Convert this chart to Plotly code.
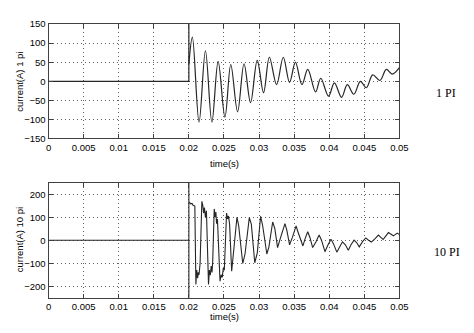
import plotly.graph_objects as go

# ---- data ----
# 1 PI case: pre-event flat segment and the step at t = 0.02 s
pi1_pre_t = [0.0, 0.02, 0.02, 0.02]
pi1_pre_i = [0.0, 0.0, 300.0, 45.0]
# 1 PI case: oscillation after the event (peaks / troughs)
pi1_t = [0.02, 0.0205, 0.02145, 0.02236, 0.02328, 0.02417, 0.02514, 0.02597, 0.02694,
         0.02786, 0.02879, 0.02974, 0.03064, 0.03147, 0.0325, 0.03345, 0.03435, 0.03518,
         0.03611, 0.03694, 0.03806, 0.03879, 0.0399, 0.04074, 0.04175, 0.04258, 0.04351,
         0.04444, 0.04528, 0.0462, 0.04722, 0.04814, 0.04897, 0.05]
pi1_i = [45, 116, -107, 80, -107, 52, -94, 44, -80,
         46, -56, 55, -30, 63, -9, 63, -3, 50,
         -9, 31, -28, 8, -39, -4, -42, -9, -34,
         0, -17, 17, 2, 31, 19, 36]

# 10 PI case
pi10_t = [0.0, 0.02, 0.02, 0.02, 0.02, 0.02025, 0.02045, 0.0206, 0.02085,
          0.02100, 0.02112, 0.02125, 0.02135, 0.02145, 0.0216, 0.02185,
          0.02199, 0.02210, 0.02222, 0.02235, 0.02250, 0.02280,
          0.02292, 0.02305, 0.02318, 0.02330, 0.02340, 0.02361,
          0.02375, 0.02385, 0.02395, 0.02407, 0.02444,
          0.02460, 0.02475, 0.02490, 0.02505, 0.02537,
          0.02552, 0.02565, 0.02580, 0.02610,
          0.02650, 0.02685, 0.02710, 0.02768, 0.02800, 0.02861, 0.02890, 0.02939,
          0.02975, 0.03022, 0.03050, 0.03111, 0.03140, 0.03194, 0.03225, 0.03264,
          0.03300, 0.03369, 0.03395, 0.03435, 0.03475, 0.03528, 0.03550, 0.03625,
          0.03660, 0.03694, 0.03725, 0.03764, 0.03810, 0.03856, 0.03890, 0.03939,
          0.03980, 0.04025, 0.04060, 0.04108, 0.04150, 0.04189, 0.04230, 0.04272,
          0.04310, 0.04354, 0.04390, 0.04428, 0.04475, 0.04521, 0.04560, 0.04601,
          0.04650, 0.04701, 0.04735, 0.04768, 0.04810, 0.04844, 0.04914, 0.04969, 0.05]
pi10_i = [0, 0, 400, -400, 168, 158, 160, 152, 148,
          -192, -130, -165, -140, -150, -100, 169,
          150, 118, 142, 100, 128, -192,
          -130, -152, -112, -140, -90, 136,
          100, 122, 72, 92, -178,
          -150, -162, -122, -130, 118,
          92, 105, 70, -135,
          10, 100, 62, -101, -60, 98, 70, -98,
          -55, 104, 66, -60, -30, 79, 50, -32,
          5, 72, 45, -20, 12, 62, 40, -25,
          10, 37, 12, -32, -8, 23, 0, -50,
          -22, 4, -15, -52, -28, -7, -20, -44,
          -20, 0, -10, -29, -6, 10, 0, -8,
          6, 22, 12, 3, 20, 33, 19, 31, 24]

x_ticks = [0, 0.005, 0.01, 0.015, 0.02, 0.025, 0.03, 0.035, 0.04, 0.045, 0.05]
x_labels = ["0", "0.005", "0.01", "0.015", "0.02", "0.025", "0.03", "0.035", "0.04", "0.045", "0.05"]
y1_ticks = [-150, -100, -50, 0, 50, 100, 150]
y2_ticks = [-200, -100, 0, 100, 200]

W, H = 474, 333
line_col = "#262626"
font = dict(family="Liberation Sans, Arial, sans-serif", size=9.5, color="black")

fig = go.Figure()
fig.add_trace(go.Scatter(x=pi1_pre_t, y=pi1_pre_i, mode="lines",
                         line=dict(color=line_col, width=1.2), xaxis="x", yaxis="y"))
fig.add_trace(go.Scatter(x=pi1_t, y=pi1_i, mode="lines",
                         line=dict(color=line_col, width=1.2, shape="spline", smoothing=1.0),
                         xaxis="x", yaxis="y"))
fig.add_trace(go.Scatter(x=pi10_t, y=pi10_i, mode="lines",
                         line=dict(color=line_col, width=1.1), xaxis="x2", yaxis="y2"))

xl, xr = 46.7, 406.7
xdom = [xl / W, xr / W]
top_dom = [1 - 137.0 / H, 1 - 18.7 / H]
bot_dom = [1 - 301.7 / H, 1 - 182.7 / H]

ax_common = dict(showline=True, linecolor="#404040", linewidth=1, mirror="allticks",
                 ticks="inside", ticklen=4, tickcolor="#404040",
                 showgrid=True, gridcolor="#606060", griddash="1px,3px", gridwidth=1,
                 zeroline=False, tickfont=font)

fig.update_layout(
    width=W, height=H, margin=dict(l=0, r=0, t=0, b=0),
    paper_bgcolor="white", plot_bgcolor="white", showlegend=False,
    xaxis=dict(domain=xdom, anchor="y", range=[0, 0.05], tickvals=x_ticks, ticktext=x_labels, **ax_common),
    yaxis=dict(domain=top_dom, anchor="x", range=[-150, 150], tickvals=y1_ticks, **ax_common),
    xaxis2=dict(domain=xdom, anchor="y2", range=[0, 0.05], tickvals=x_ticks, ticktext=x_labels, **ax_common),
    yaxis2=dict(domain=bot_dom, anchor="x2", range=[-250, 250], tickvals=y2_ticks, **ax_common),
)

ann_font = dict(family="Liberation Sans, Arial, sans-serif", size=9.5, color="black")
serif = dict(family="Liberation Serif, Times New Roman, serif", size=12, color="black")
annotations = [
    dict(text="current(A) 1 pi", x=16.7 / W, y=1 - 78 / H, textangle=-90, font=ann_font),
    dict(text="current(A) 10 pi", x=16.7 / W, y=1 - 242 / H, textangle=-90, font=ann_font),
    dict(text="time(s)", x=227 / W, y=1 - 162.5 / H, font=ann_font),
    dict(text="time(s)", x=227 / W, y=1 - 321 / H, font=ann_font),
    dict(text="1 PI", x=455 / W, y=1 - 90 / H, font=serif),
    dict(text="10 PI", x=456 / W, y=1 - 254 / H, font=serif),
]
for a in annotations:
    a.update(xref="paper", yref="paper", showarrow=False, xanchor="center", yanchor="middle")
fig.update_layout(annotations=annotations)

fig.write_html("out.html")
